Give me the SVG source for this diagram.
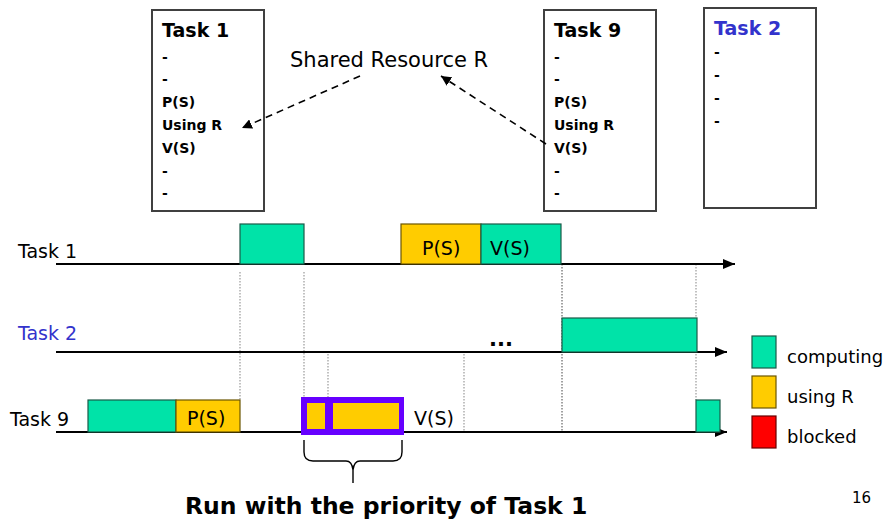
<svg xmlns="http://www.w3.org/2000/svg" width="887" height="521" viewBox="0 0 887 521">
<defs>
<style>
.box{fill:#fff;stroke:#404040;stroke-width:2}
.tt{font-family:"DejaVu Sans",Verdana,sans-serif;font-weight:bold;font-size:19px;fill:#000}
.bd{font-family:"DejaVu Sans",Verdana,sans-serif;font-weight:bold;font-size:14px;fill:#000}
.lbl{font-family:"DejaVu Sans",Verdana,sans-serif;font-size:19px;fill:#000}
.blue{fill:#3333CC}
.comp{fill:#00E3A8;stroke:#1a5a48;stroke-width:1.2}
.useR{fill:#FFCC00;stroke:#6b5500;stroke-width:1.2}
.blk{fill:#FF0000;stroke:#600;stroke-width:1.2}
.axis{stroke:#000;stroke-width:2;fill:none}
.dot{stroke:#999;stroke-width:1.2;stroke-dasharray:1.5,1.5;fill:none}
.dotd{stroke:#444;stroke-width:1;stroke-dasharray:1.5,1.5;fill:none}
.dash{stroke:#000;stroke-width:1.6;stroke-dasharray:7,5;fill:none}
</style>
<marker id="ah" viewBox="0 0 10 10" refX="10" refY="5" markerWidth="10" markerHeight="10" markerUnits="userSpaceOnUse" orient="auto">
<path d="M0,0 L10,5 L0,10 z" fill="#000"/>
</marker>
<marker id="ah2" viewBox="0 0 12 10" refX="12" refY="5" markerWidth="12" markerHeight="10" markerUnits="userSpaceOnUse" orient="auto">
<path d="M0,0 L12,5 L0,10 z" fill="#000"/>
</marker>
</defs>
<rect width="887" height="521" fill="#fff"/>

<g id="task1-box">
<rect class="box" x="152" y="10" width="112" height="201"/>
<text class="tt" x="162" y="37">Task 1</text>
<text class="bd" x="162" y="62">-</text>
<text class="bd" x="162" y="84">-</text>
<text class="bd" x="162" y="107">P(S)</text>
<text class="bd" x="162" y="130">Using R</text>
<text class="bd" x="162" y="153">V(S)</text>
<text class="bd" x="162" y="176">-</text>
<text class="bd" x="162" y="198">-</text>
</g>

<g id="task9-box">
<rect class="box" x="544" y="10" width="112" height="201"/>
<text class="tt" x="554" y="37">Task 9</text>
<text class="bd" x="554" y="62">-</text>
<text class="bd" x="554" y="84">-</text>
<text class="bd" x="554" y="107">P(S)</text>
<text class="bd" x="554" y="130">Using R</text>
<text class="bd" x="554" y="153">V(S)</text>
<text class="bd" x="554" y="176">-</text>
<text class="bd" x="554" y="198">-</text>
</g>

<g id="task2-box">
<rect class="box" x="704" y="8" width="112" height="200"/>
<text class="tt blue" x="714" y="35">Task 2</text>
<text class="bd" x="714" y="57">-</text>
<text class="bd" x="714" y="80">-</text>
<text class="bd" x="714" y="103">-</text>
<text class="bd" x="714" y="126">-</text>
</g>

<g id="shared-resource">
<text class="lbl" x="290" y="67" style="font-size:21px">Shared Resource R</text>
</g>

<g id="connectors">
<line class="dash" x1="360" y1="76" x2="242" y2="128" marker-end="url(#ah)"/>
<line class="dash" x1="546" y1="144" x2="441" y2="76" marker-end="url(#ah)"/>
</g>

<g id="guides">
<line class="dot" x1="240" y1="272" x2="240" y2="400"/>
<line class="dot" x1="304" y1="272" x2="304" y2="432"/>
<line class="dot" x1="328" y1="354" x2="328" y2="400"/>
<line class="dot" x1="464" y1="354" x2="464" y2="432"/>
<line class="dotd" x1="562" y1="264" x2="562" y2="432"/>
<line class="dot" x1="696" y1="264" x2="696" y2="400"/>
</g>

<g id="timeline-task1">
<text class="lbl" x="18" y="258">Task 1</text>
<line class="axis" x1="56" y1="264" x2="735" y2="264" marker-end="url(#ah2)"/>
<rect class="comp" x="240" y="224" width="64" height="40"/>
<rect class="useR" x="401" y="224" width="80" height="40"/>
<rect class="comp" x="481" y="224" width="80" height="40"/>
<text class="lbl" x="422" y="255">P(S)</text>
<text class="lbl" x="490" y="255">V(S)</text>
</g>

<g id="timeline-task2">
<text class="lbl blue" x="18" y="340">Task 2</text>
<line class="axis" x1="56" y1="352" x2="727" y2="352" marker-end="url(#ah2)"/>
<rect class="comp" x="562" y="318" width="135" height="34"/>
<text class="tt" x="489" y="346" style="font-size:21px">...</text>
</g>

<g id="timeline-task9">
<text class="lbl" x="10" y="426">Task 9</text>
<line class="axis" x1="56" y1="432" x2="727" y2="432" marker-end="url(#ah2)"/>
<rect class="comp" x="88" y="400" width="88" height="32"/>
<rect class="useR" x="176" y="400" width="64" height="32"/>
<text class="lbl" x="187" y="425">P(S)</text>
<rect x="301" y="397" width="103" height="38" fill="#6600FF"/>
<rect x="307" y="403" width="18" height="26" fill="#FFCC00"/>
<rect x="333" y="403" width="66" height="26" fill="#FFCC00"/>
<text class="lbl" x="414" y="425">V(S)</text>
<rect class="comp" x="696" y="400" width="24" height="32"/>
</g>

<g id="brace">
<path d="M304,440 L304,452 Q304,461 313,461 L346,461 Q352,461 353,470 L353,483 M353,470 Q354,461 360,461 L393,461 Q402,461 402,452 L402,440" fill="none" stroke="#000" stroke-width="1.4"/>
<text class="tt" x="185" y="514" style="font-size:23.5px">Run with the priority of Task 1</text>
</g>

<g id="legend">
<rect class="comp" x="752" y="336" width="24" height="32"/>
<rect class="useR" x="752" y="376" width="24" height="32"/>
<rect class="blk" x="752" y="416" width="24" height="32"/>
<text class="lbl" x="787" y="363" style="font-size:18px">computing</text>
<text class="lbl" x="787" y="403" style="font-size:18px">using R</text>
<text class="lbl" x="787" y="443" style="font-size:18px">blocked</text>
</g>

<text class="lbl" x="852" y="503" style="font-size:15px">16</text>
</svg>
